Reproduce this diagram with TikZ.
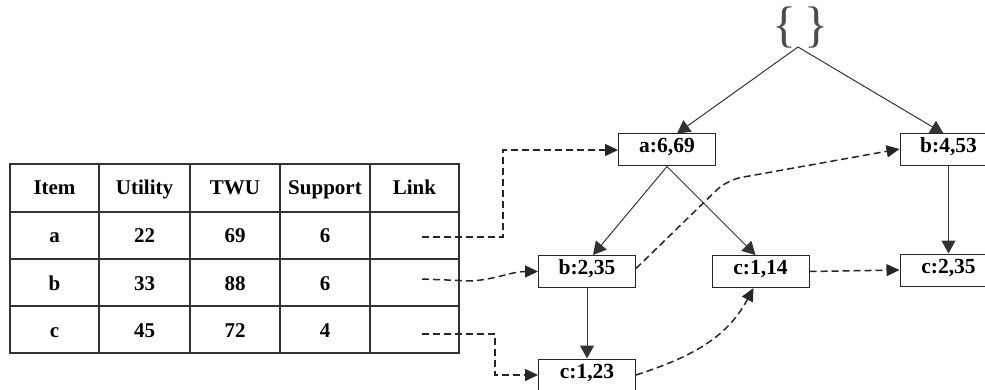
\documentclass[tikz,border=0pt]{standalone}
\usepackage{fontspec}
\setmainfont{Liberation Serif}
\usetikzlibrary{arrows.meta}
\begin{document}
\begin{tikzpicture}[x=1pt,y=-1pt,
  box/.style={draw=black!85, line width=1pt, fill=white, minimum width=97pt,
    minimum height=32pt, inner sep=0pt, text height=14pt, text depth=8pt,
    font=\fontsize{21.5}{24}\selectfont\bfseries},
  cell/.style={inner sep=0pt, anchor=base, font=\fontsize{21}{24}\selectfont\bfseries},
  tree/.style={draw=black!80, line width=1pt, -{Triangle[length=13pt,width=14pt]}},
  link/.style={draw=black!85, line width=1.5pt, dash pattern=on 7pt off 4pt,
    -{Triangle[length=13pt,width=12pt]}},
  gridline/.style={draw=black!80, line width=1.4pt}]
\useasboundingbox (0,0) rectangle (985,390);

% header table
\draw[gridline] (10,164) rectangle (459,353);
\foreach \y in {212,259,306} \draw[gridline] (10,\y) -- (459,\y);
\foreach \x in {99,190,280,370} \draw[gridline] (\x,164) -- (\x,353);

\node[cell] (h1) at (54.5,195) {Item};
\node[cell] (h2) at (144.5,195) {Utility};
\node[cell] (h3) at (235,195) {TWU};
\node[cell] (h4) at (325,195) {Support};
\node[cell] (h5) at (414.5,195) {Link};

\node[cell] (ra1) at (54.5,243) {a};
\node[cell] (ra2) at (144.5,243) {22};
\node[cell] (ra3) at (235,243) {69};
\node[cell] (ra4) at (325,243) {6};

\node[cell] (rb1) at (54.5,290) {b};
\node[cell] (rb2) at (144.5,290) {33};
\node[cell] (rb3) at (235,290) {88};
\node[cell] (rb4) at (325,290) {6};

\node[cell] (rc1) at (54.5,337) {c};
\node[cell] (rc2) at (144.5,337) {45};
\node[cell] (rc3) at (235,337) {72};
\node[cell] (rc4) at (325,337) {4};

\coordinate (la) at (422,237);
\coordinate (lb) at (422,279);
\coordinate (lc) at (422,334);

% tree nodes
\node[inner sep=0pt, text=black!70] (root) at (800,28)
  {\fontsize{50}{50}\selectfont\{\hspace{8pt}\}};
\coordinate (rootbase) at (798,47);
\node[box] (a)  at (667,150)   {a:6,69};
\node[box] (b4) at (948.5,150) {b:4,53};
\node[box] (b1) at (587,271.5) {b:2,35};
\node[box] (c1) at (760.5,271.5) {c:1,14};
\node[box] (c2) at (948.5,270) {c:2,35};
\node[box] (c3) at (587,375)   {c:1,23};

% tree edges
\draw[tree] (rootbase) -- ([xshift=10pt]a.north);
\draw[tree] (rootbase) -- ([xshift=-5pt]b4.north);
\draw[tree] (a.south) -- ([xshift=6pt]b1.north);
\draw[tree] (a.south) -- ([xshift=-5pt]c1.north);
\draw[tree] (b1.south) -- (c3.north);
\draw[tree] (b4.south) -- (c2.north);

% node links
\draw[link] (la) -- (503,237) |- (a.west);
\draw[link] (lb) -- (472,281) to[out=5,in=180] (b1.west);
\draw[link] (lc) -- (495,334) |- (c3.west);
\draw[link, rounded corners=14pt] ([yshift=3pt]b1.east) -- (727,180) -- ([yshift=1pt]b4.west);
\draw[link] (c1.east) -- (c2.west);
\draw[link] (c3.east) to[out=18,in=-118] ([xshift=-7pt]c1.south);
\end{tikzpicture}
\end{document}
